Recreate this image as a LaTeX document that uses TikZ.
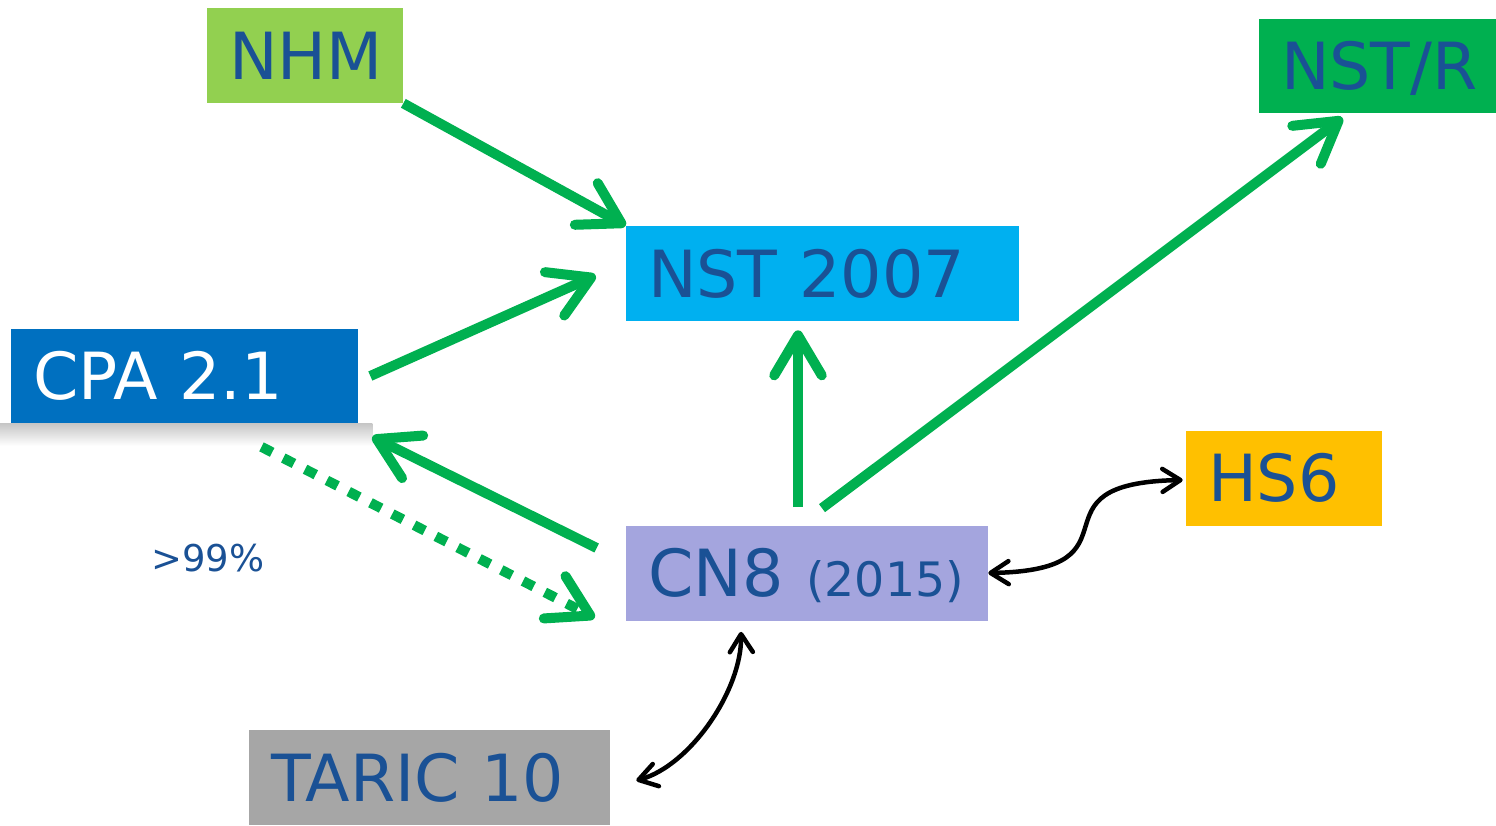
\documentclass[tikz,border=0pt]{standalone}
\usepackage{fontspec}
\setmainfont{DejaVu Sans}
\usetikzlibrary{arrows.meta,calc,backgrounds}
\definecolor{txtblue}{HTML}{1A5195}
\definecolor{flowgreen}{HTML}{00B050}
\definecolor{nhmgreen}{HTML}{92D050}
\definecolor{nstrgreen}{HTML}{00B050}
\definecolor{nstblue}{HTML}{00B0F0}
\definecolor{cpablue}{HTML}{0070C0}
\definecolor{cnlilac}{HTML}{A4A5DE}
\definecolor{hsyellow}{HTML}{FFC000}
\definecolor{taricgray}{HTML}{A6A6A6}

\begin{document}
\begin{tikzpicture}[x=0.02cm,y=-0.02cm,font=\fontsize{37pt}{40pt}\selectfont]
\tikzset{box/.style={inner xsep=0.44cm,inner ysep=0pt,minimum height=1.9cm,text height=27pt,text depth=0pt,align=left,text=txtblue}}
\tikzset{flow/.style={line width=0.2cm,draw=flowgreen,-{Straight Barb[length=0.8cm,width=0.95cm,round]}}}
\tikzset{dotflow/.style={flow,dash pattern=on 0.24cm off 0.25cm}}
\tikzset{link/.style={line width=0.09cm,{Straight Barb[length=0.36cm,width=0.46cm,round]}-{Straight Barb[length=0.36cm,width=0.46cm,round]}}}
\useasboundingbox (0,0) rectangle (1496,825);
\node[box,fill=nhmgreen,text width=3.04cm] (nhm) at (305,55.5) {NHM};
\node[box,fill=nstrgreen,text width=3.86cm] (nstr) at (1377.5,66) {NST/R};
\node[box,fill=nstblue,text width=6.98cm] (nst) at (822.5,273.5) {NST 2007};
\node[box,fill=cpablue,text=white,text width=6.06cm] (cpa) at (184.5,376) {CPA 2.1};
\node[box,fill=cnlilac,text width=6.36cm] (cn8) at (807,573) {CN8\hspace{13pt}{\fontsize{27pt}{30pt}\selectfont(2015)}};
\node[box,fill=hsyellow,text width=3.04cm] (hs6) at (1284,478) {HS6};
\node[box,fill=taricgray,text width=6.34cm] (taric) at (429.5,777.5) {TARIC 10};
\node[text=txtblue,font=\fontsize{21pt}{24pt}\selectfont] (pct) at (208,558) {>99\%};
% shadow under CPA
\begin{scope}[on background layer]
\shade[top color=black!22,bottom color=white] ($(cpa.south west)+(-11,0)$) rectangle ($(cpa.south east)+(14,22)$);
\end{scope}
% green flows
\draw[flow] (nhm.south east) -- (nst.north west);
\draw[flow] ($(cpa.east)+(12,0)$) -- ($(nst.west)+(-30,2)$);
\draw[flow] ($(cn8.north)+(-9,-18)$) -- ($(nst.south)+(-24.5,9)$);
\draw[flow] ($(cn8.north)+(15,-17)$) -- ($(nstr.south)+(-35,4)$);
\draw[flow] ($(cn8.west)+(-29,-25)$) -- ($(cpa.south east)+(14,13)$);
\draw[dotflow] ($(cpa.south)+(77,23)$) -- ($(cn8.south west)+(-31,-3)$);
% black links
\draw[link] (cn8.east) .. controls +(162,-3) and +(-162,3) .. ($(hs6.west)+(-3,2)$);
\draw[link] ($(taric.east)+(26,3)$) .. controls +(54,-15) and +(1,58) .. ($(cn8.south)+(-66,11)$);
\end{tikzpicture}
\end{document}
